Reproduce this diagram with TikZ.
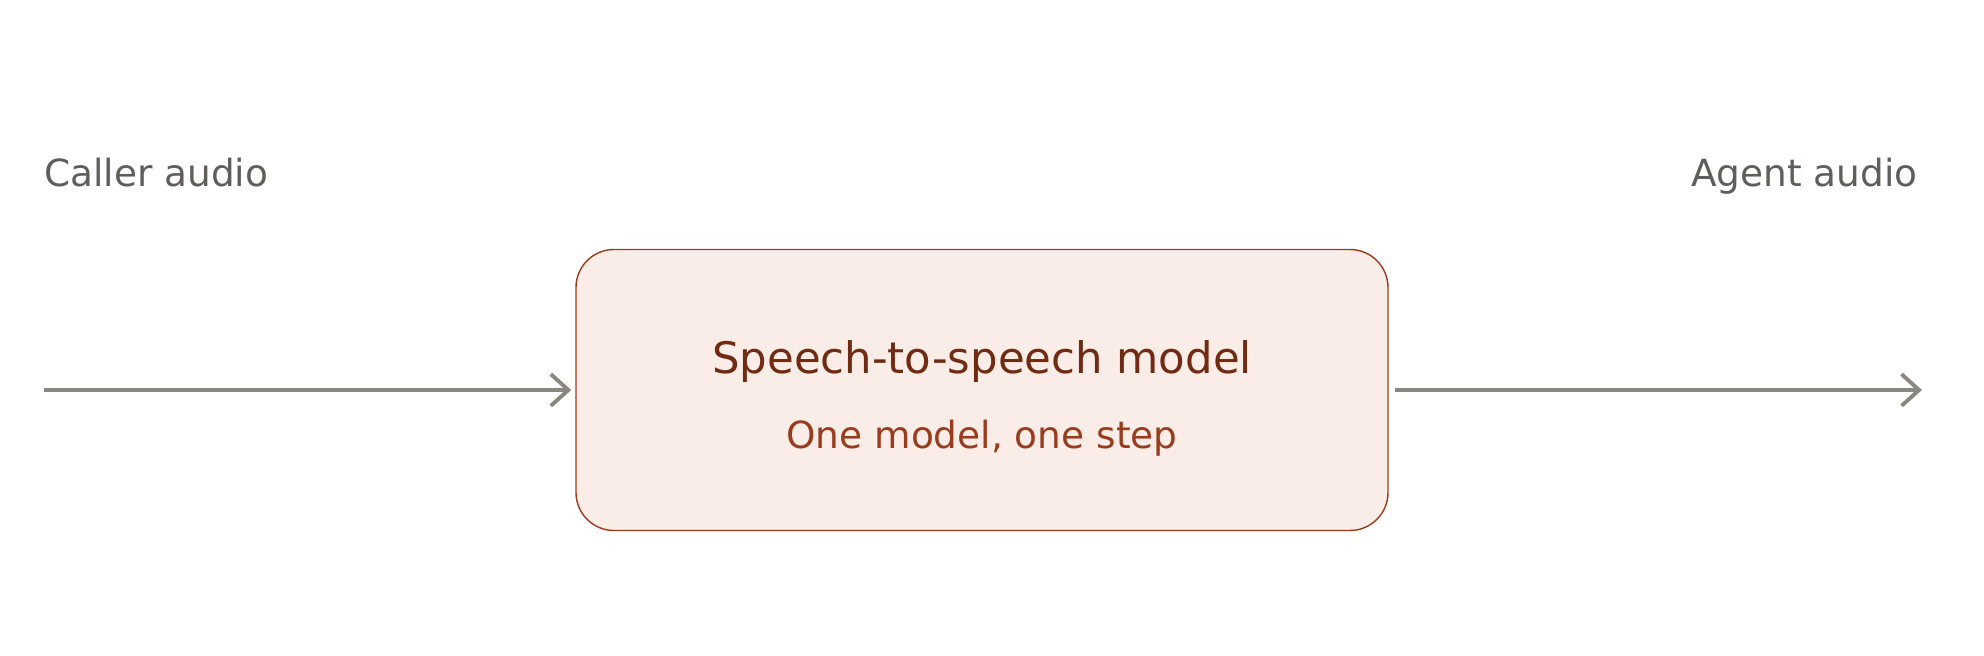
\documentclass[tikz,border=0pt]{standalone}
\usepackage{fontspec}
\setmainfont{DejaVu Sans}
\usetikzlibrary{arrows.meta}
\definecolor{boxfill}{HTML}{FAECE7}
\definecolor{boxline}{HTML}{993C1D}
\definecolor{titletext}{HTML}{712B13}
\definecolor{subtext}{HTML}{993C1D}
\definecolor{labeltext}{HTML}{5F5E5A}
\definecolor{flowline}{HTML}{888780}
\begin{document}
\begin{tikzpicture}[
    modelbox/.style={rectangle, rounded corners=0.76cm, draw=boxline, line width=0.8pt, fill=boxfill, minimum width=16.24cm, minimum height=5.62cm, inner sep=0pt},
    title/.style={text=titletext, font=\fontsize{24.7}{30}\selectfont, inner sep=0pt},
    subtitle/.style={text=subtext, font=\fontsize{21.3}{26}\selectfont, inner sep=0pt},
    label/.style={text=labeltext, font=\fontsize{21.3}{26}\selectfont, inner sep=0pt},
    arrow/.style={-{Straight Barb[length=10pt, width=18pt]}, flowline, line width=2.2pt}
]
    \useasboundingbox (0, 0) rectangle (39.68, 13.1);

    % Model
    \node[modelbox] (model) at (19.64, 5.3) {};
    \node[title, anchor=base] (modeltitle) at (19.64, 5.62) {Speech-to-speech model};
    \node[subtitle, anchor=base] (modelsub) at (19.64, 4.12) {One model, one step};

    % Audio labels
    \node[label, anchor=base west] (caller) at (0.88, 9.36) {Caller audio};
    \node[label, anchor=base east] (agent) at (38.36, 9.36) {Agent audio};

    % Flow
    \coordinate (in) at (0.88, 5.3);
    \coordinate (out) at (38.44, 5.3);
    \draw[arrow] (in) -- ([xshift=-0.08cm]model.west);
    \draw[arrow] ([xshift=0.12cm]model.east) -- (out);
\end{tikzpicture}
\end{document}
